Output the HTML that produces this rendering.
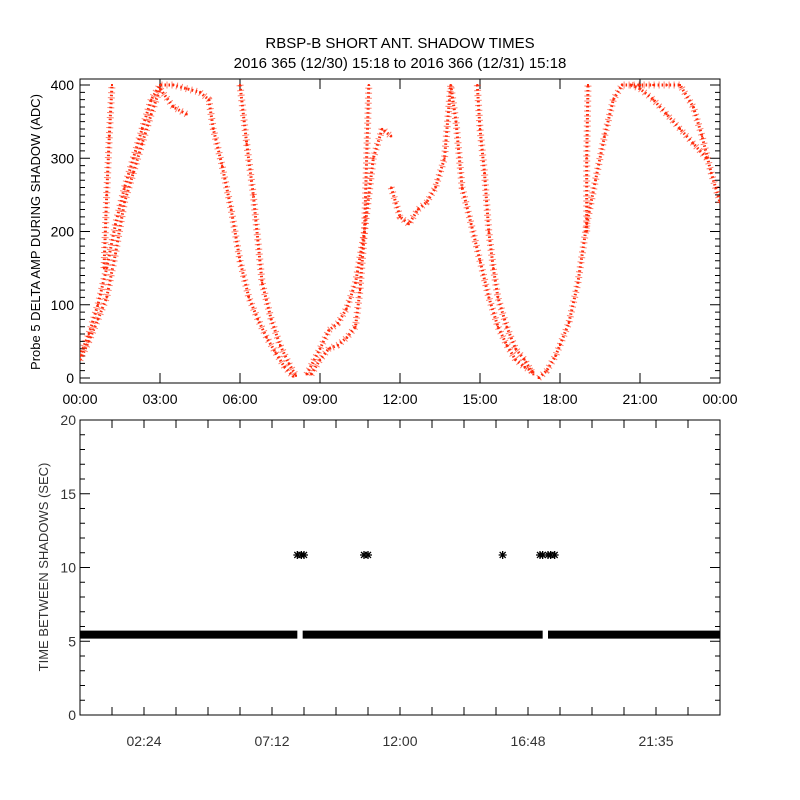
<!DOCTYPE html>
<html><head><meta charset="utf-8"><style>
html,body{margin:0;padding:0;background:#fff;}
svg{display:block;font-family:"Liberation Sans",sans-serif;}
</style></head><body>
<svg id="chart" width="800" height="800" viewBox="0 0 800 800">
<rect width="800" height="800" fill="#fff"/>
<text x="400" y="48" font-size="15" text-anchor="middle">RBSP-B SHORT ANT. SHADOW TIMES</text>
<text x="400" y="68" font-size="15" text-anchor="middle">2016 365 (12/30) 15:18 to 2016 366 (12/31) 15:18</text>
<g id="topPanel"></g>
<g id="botPanel"></g>
</svg>
<script>
// ---- top panel data: scatter bands (hours, ADC) ----
const bandA_t=[0,0.33,0.67,1,1.33,1.67,2,2.33,2.67,3,3.5,4,4.5,4.83,5,5.33,5.67,6,6.33,6.67,7,7.33,7.67,8];
const bandA_v=[30,60,100,150,210,260,300,340,380,400,400,395,390,380,340,290,230,160,110,80,55,35,15,2];
const bandB_t=[0,0.33,0.67,1,1.33,1.67,2,2.33,2.67,3,3.5,4];
const bandB_v=[25,50,80,110,170,240,280,320,360,395,370,360];
const bandC_t=[6,6.25,6.5,6.83,7.17,7.5,7.83,8.1];
const bandC_v=[400,320,250,130,80,45,20,3];
const bandD_t=[0.9,1,1.1,1.2];
const bandD_v=[150,250,330,400];
const bandE_t=[8.5,9,9.33,9.67,10,10.33,10.67,11,11.33,11.67];
const bandE_v=[5,40,65,75,95,130,200,300,340,330];
const bandF_t=[8.67,9,9.33,9.67,10,10.33,10.5,10.67,10.83];
const bandF_v=[5,25,40,45,55,70,120,200,400];
const bandG_t=[11.67,12,12.33,12.67,13,13.33,13.67,13.9,14.1,14.33,14.67,15,15.33,15.67,16,16.33,16.67,17];
const bandG_v=[260,220,210,230,240,260,300,400,350,260,210,160,110,70,45,25,15,8];
const bandH_t=[14.9,15,15.17,15.33,15.5,15.67,16,16.33,16.67,17];
const bandH_v=[400,340,280,200,150,110,70,40,25,5];
const bandI_t=[17.2,17.5,17.83,18,18.33,18.67,19,19.33,19.67,20,20.33,20.67,21,21.5,22,22.5,23,23.33,23.67,24];
const bandI_v=[0,10,30,45,75,130,210,270,330,380,400,400,400,400,400,400,370,330,280,240];
const bandJ_t=[20.67,21,21.5,22,22.5,23,23.5];
const bandJ_v=[400,395,380,360,340,320,300];
const bandK_t=[19,19,19.05];
const bandK_v=[200,300,400];
const topYTicks=[0,100,200,300,400];
const topXTicks=["00:00","03:00","06:00","09:00","12:00","15:00","18:00","21:00","00:00"];
// ---- bottom panel data ----
const mainSeg_start=[0,8.35,17.55];
const mainSeg_end=[8.15,17.35,24];
const mainSeg_val=[5.45,5.45,5.45];
const outlier_t=[8.15,8.3,8.4,10.65,10.8,15.85,17.25,17.35,17.55,17.65,17.8];
const outlier_v=[10.85,10.85,10.85,10.85,10.85,10.85,10.85,10.85,10.85,10.85,10.85];
const botYTicks=[0,5,10,15,20];
const botXLabels=["02:24","07:12","12:00","16:48","21:35"];
const botXLabelHours=[2.4,7.2,12,16.8,21.6];

const NS="http://www.w3.org/2000/svg";
const PL=80,PR=720;
const xT=h=>PL+h*(PR-PL)/24;
const yTop=v=>378-v*0.7325;
const yBot=v=>715-v*14.75;
function mk(parent,tag,attrs){const e=document.createElementNS(NS,tag);for(const k in attrs)e.setAttribute(k,attrs[k]);parent.appendChild(e);return e;}
const tp=document.getElementById('topPanel'),bp=document.getElementById('botPanel');

// top frame & ticks
let f=mk(tp,'rect',{x:80,y:79,width:640,height:304,fill:'none',stroke:'#000','stroke-width':1});


for(let v=0;v<=400;v+=10){const y=yTop(v),len=v%100===0?10:5;
 let t=mk(tp,'path',{d:`M80 ${y}h${len}M720 ${y}h${-len}`,stroke:'#000','stroke-width':1});
 
 }
topYTicks.forEach(v=>{let t=mk(tp,'text',{x:74,y:yTop(v)+5,'font-size':14,'text-anchor':'end'});t.textContent=v;
 
 });
topXTicks.forEach((s,i)=>{const x=xT(i*3);
 let t=mk(tp,'path',{d:`M${x} 383v-10M${x} 79v10`,stroke:'#000'});
 
 
 let l=mk(tp,'text',{x:x,y:404,'font-size':14,'text-anchor':'middle'});l.textContent=s;
 
 });
let yt=mk(tp,'text',{transform:'translate(40,232) rotate(-90)','font-size':13,'text-anchor':'middle'});
yt.textContent='Probe 5 DELTA AMP DURING SHADOW (ADC)';



const bands=[[bandA_t,bandA_v],[bandB_t,bandB_v],[bandC_t,bandC_v],[bandD_t,bandD_v],[bandE_t,bandE_v],[bandF_t,bandF_v],[bandG_t,bandG_v],[bandH_t,bandH_v],[bandI_t,bandI_v],[bandJ_t,bandJ_v],[bandK_t,bandK_v]];
const cl=document.createElementNS(NS,'clipPath');cl.id='tc';mk(cl,'rect',{x:80,y:79,width:640,height:304});tp.appendChild(cl);
bands.forEach(([ts,vs])=>{
 const d=ts.map((t,i)=>(i?'L':'M')+xT(t).toFixed(1)+' '+yTop(vs[i]).toFixed(1)).join('');
 let p=mk(tp,'path',{d:d,fill:'none',stroke:'#ff2a0a','stroke-width':3,'stroke-dasharray':'1.5 2.5','clip-path':'url(#tc)'});
 
 
 let p2=mk(tp,'path',{d:d,fill:'none',stroke:'#ff2a0a','stroke-width':7,'stroke-dasharray':'1 4',opacity:0.6,'clip-path':'url(#tc)'});
 
 
 ts.forEach((t,i)=>{let r=mk(tp,'rect',{x:xT(t)-1,y:yTop(vs[i])-1,width:2,height:2,fill:'#ff2a0a','clip-path':'url(#tc)'});
  
  });
});

// bottom frame & ticks
let f2=mk(bp,'rect',{x:80,y:420,width:640,height:295,fill:'none',stroke:'#000'});


for(let v=0;v<=20;v++){const y=yBot(v),len=v%5===0?10:5;
 let t=mk(bp,'path',{d:`M80 ${y}h${len}M720 ${y}h${-len}`,stroke:'#000'});
 
 }
botYTicks.forEach(v=>{let t=mk(bp,'text',{x:76,y:yBot(v)+5,'font-size':14,'text-anchor':'end',fill:'#333'});t.textContent=v;
 
 });
for(let h=1.2;h<24;h+=1.2){const x=xT(h);
 let t=mk(bp,'path',{d:`M${x} 715v-8M${x} 420v8`,stroke:'#000'});
 
 }
botXLabels.forEach((s,i)=>{let l=mk(bp,'text',{x:xT(botXLabelHours[i]),y:746,'font-size':14,'text-anchor':'middle',fill:'#333'});l.textContent=s;
 
 });
let yt2=mk(bp,'text',{transform:'translate(48,567) rotate(-90)','font-size':13,'text-anchor':'middle',fill:'#333'});
yt2.textContent='TIME BETWEEN SHADOWS (SEC)';


mainSeg_start.forEach((s,i)=>{const y=yBot(mainSeg_val[i]);
 let r=mk(bp,'rect',{x:xT(s),y:y-4,width:xT(mainSeg_end[i])-xT(s),height:8,fill:'#000'});
 
 });
outlier_t.forEach((t,i)=>{const x=xT(t),y=yBot(outlier_v[i]);
 let s=mk(bp,'path',{d:`M${x-4} ${y}h8M${x} ${y-4}v8M${x-3} ${y-3}l6 6M${x-3} ${y+3}l6 -6`,stroke:'#000','stroke-width':1.3});
 
 });
</script>
</body></html>
